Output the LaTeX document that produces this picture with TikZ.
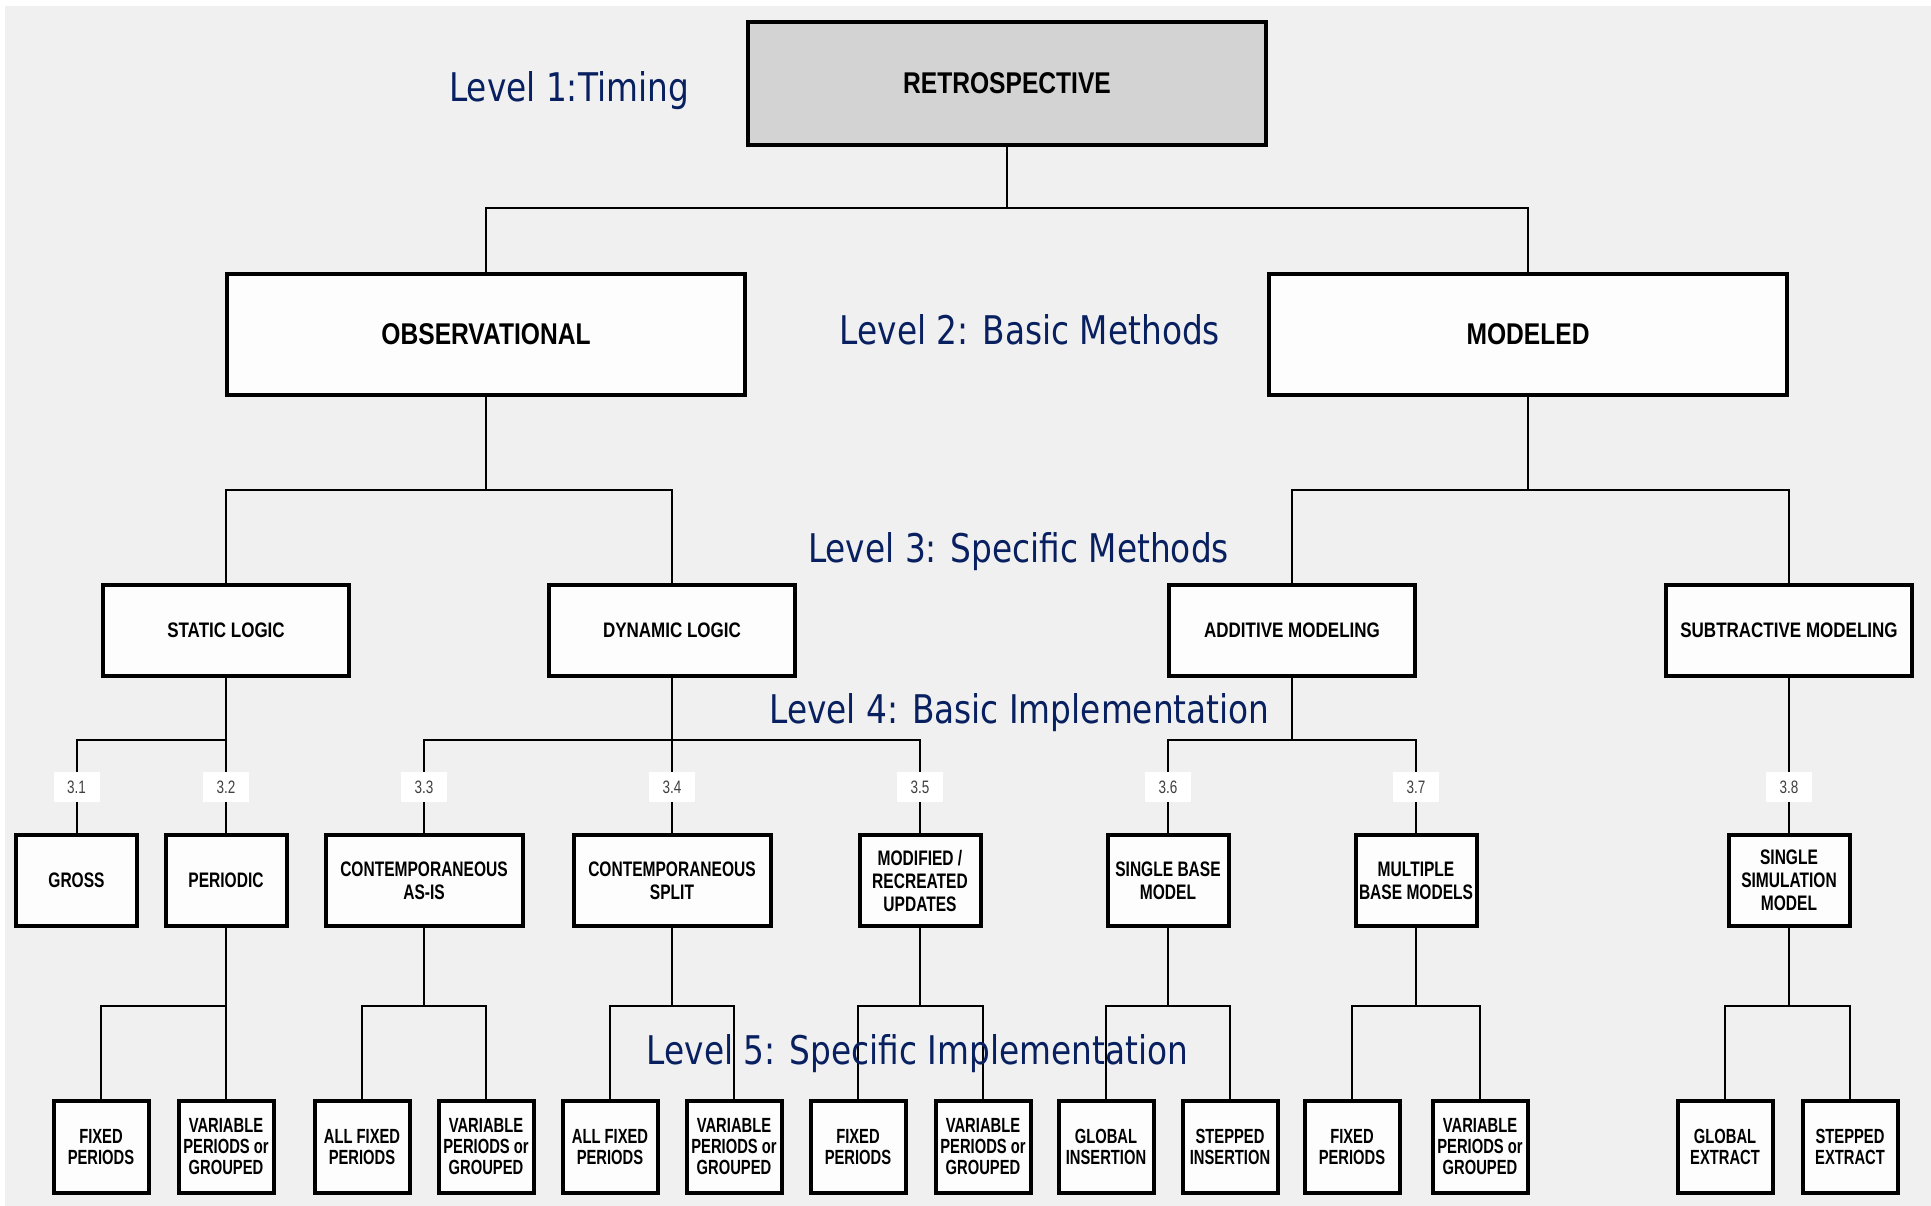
\documentclass[tikz,border=0pt]{standalone}
\usepackage{fontspec}
\setmainfont{Liberation Sans}
\newfontfamily\fA[FakeStretch=0.82]{Liberation Sans}
\newfontfamily\fB[FakeStretch=0.74]{Liberation Sans}
\newfontfamily\fD[FakeStretch=0.81]{Liberation Sans}
\newfontfamily\fC[FakeStretch=0.72]{Liberation Sans}
\newfontfamily\fN[FakeStretch=0.75]{Liberation Sans}
\newfontfamily\fL[FakeStretch=0.83]{DejaVu Sans}
\definecolor{bggray}{RGB}{240,240,240}
\definecolor{titlegray}{RGB}{211,211,211}
\definecolor{boxw}{RGB}{253,253,253}
\definecolor{lvlblue}{RGB}{8,32,96}
\begin{document}
\begin{tikzpicture}[x=1pt,y=-1pt,
  bx/.style={draw=black, line width=4pt, fill=boxw, align=center, inner sep=0pt},
  topbox/.style={bx, fill=titlegray, minimum width=518pt, minimum height=123pt, font={\fA\bfseries\fontsize{30}{32}\selectfont}},
  lvtwo/.style={bx, minimum width=518pt, minimum height=121pt, font={\fA\bfseries\fontsize{30}{32}\selectfont}},
  lvthree/.style={bx, minimum width=246pt, minimum height=91pt, font={\fD\bfseries\fontsize{21}{23}\selectfont}},
  lvfour/.style={bx, minimum width=121pt, minimum height=91pt, font={\fB\bfseries\fontsize{21}{23}\selectfont}},
  lvfourw/.style={lvfour, minimum width=197pt},
  lvfive/.style={bx, minimum width=95pt, minimum height=92pt, font={\fC\bfseries\fontsize{20.5}{21}\selectfont}},
  conn/.style={draw=black, line width=2pt},
  numlab/.style={fill=white, inner sep=0pt, minimum width=46pt, minimum height=30pt, text=black!75, font={\fN\fontsize{18}{20}\selectfont}},
  lvltext/.style={anchor=base, text=lvlblue, inner sep=0pt, font={\fL\fontsize{39.5}{42}\selectfont}}
]
\useasboundingbox (0,0) rectangle (1931,1206);
\fill[white] (0,0) rectangle (1931,1206);
\fill[bggray] (5,6) rectangle (1931,1206);

% Level 1
\node[topbox] (retro) at (1007,83.5) {RETROSPECTIVE};
% Level 2
\node[lvtwo] (obs) at (486,334.5) {OBSERVATIONAL};
\node[lvtwo] (mod) at (1528,334.5) {MODELED};
% Level 3
\node[lvthree] (stat) at (226,630.5) {STATIC LOGIC};
\node[lvthree] (dyn) at (672,630.5) {DYNAMIC LOGIC};
\node[lvthree] (add) at (1292,630.5) {ADDITIVE MODELING};
\node[lvthree] (sub) at (1789,630.5) {SUBTRACTIVE MODELING};
% Level 4
\node[lvfour] (gross) at (76.5,880.5) {GROSS};
\node[lvfour] (per) at (226,880.5) {PERIODIC};
\node[lvfourw] (asis) at (424,880.5) {CONTEMPORANEOUS\\AS-IS};
\node[lvfourw] (split) at (672,880.5) {CONTEMPORANEOUS\\SPLIT};
\node[lvfour] (modi) at (920,880.5) {MODIFIED /\\RECREATED\\UPDATES};
\node[lvfour] (sbm) at (1168,880.5) {SINGLE BASE\\MODEL};
\node[lvfour] (mbm) at (1416,880.5) {MULTIPLE\\BASE MODELS};
\node[lvfour] (ssm) at (1789,880.5) {SINGLE\\SIMULATION\\MODEL};
% Level 5
\node[lvfive] (e1) at (101,1147) {FIXED\\PERIODS};
\node[lvfive] (e2) at (226,1147) {VARIABLE\\PERIODS or\\GROUPED};
\node[lvfive] (e3) at (362,1147) {ALL FIXED\\PERIODS};
\node[lvfive] (e4) at (486,1147) {VARIABLE\\PERIODS or\\GROUPED};
\node[lvfive] (e5) at (610,1147) {ALL FIXED\\PERIODS};
\node[lvfive] (e6) at (734,1147) {VARIABLE\\PERIODS or\\GROUPED};
\node[lvfive] (e7) at (858,1147) {FIXED\\PERIODS};
\node[lvfive] (e8) at (983,1147) {VARIABLE\\PERIODS or\\GROUPED};
\node[lvfive] (e9) at (1106,1147) {GLOBAL\\INSERTION};
\node[lvfive] (e10) at (1230,1147) {STEPPED\\INSERTION};
\node[lvfive] (e11) at (1352,1147) {FIXED\\PERIODS};
\node[lvfive] (e12) at (1480,1147) {VARIABLE\\PERIODS or\\GROUPED};
\node[lvfive] (e13) at (1725,1147) {GLOBAL\\EXTRACT};
\node[lvfive] (e14) at (1850,1147) {STEPPED\\EXTRACT};

% junctions
\coordinate (j1) at (1007,208);
\coordinate (j2) at (486,490);
\coordinate (j3) at (1528,490);
\coordinate (j4) at (226,740);
\coordinate (j5) at (672,740);
\coordinate (j6) at (1292,740);
\coordinate (k1) at (226,1006);
\coordinate (k2) at (424,1006);
\coordinate (k3) at (672,1006);
\coordinate (k4) at (920,1006);
\coordinate (k5) at (1168,1006);
\coordinate (k6) at (1416,1006);
\coordinate (k7) at (1789,1006);

\draw[conn] (retro.south) -- (j1);
\draw[conn] (j1) -| (obs.north);
\draw[conn] (j1) -| (mod.north);
\draw[conn] (obs.south) -- (j2);
\draw[conn] (j2) -| (stat.north);
\draw[conn] (j2) -| (dyn.north);
\draw[conn] (mod.south) -- (j3);
\draw[conn] (j3) -| (add.north);
\draw[conn] (j3) -| (sub.north);
\draw[conn] (stat.south) -- (j4);
\draw[conn] (j4) -| (gross.north);
\draw[conn] (j4) -- (per.north);
\draw[conn] (dyn.south) -- (j5);
\draw[conn] (j5) -| (asis.north);
\draw[conn] (j5) -- (split.north);
\draw[conn] (j5) -| (modi.north);
\draw[conn] (add.south) -- (j6);
\draw[conn] (j6) -| (sbm.north);
\draw[conn] (j6) -| (mbm.north);
\draw[conn] (sub.south) -- (ssm.north);
\draw[conn] (per.south) -- (k1);
\draw[conn] (k1) -| (e1.north);
\draw[conn] (k1) -- (e2.north);
\draw[conn] (asis.south) -- (k2);
\draw[conn] (k2) -| (e3.north);
\draw[conn] (k2) -| (e4.north);
\draw[conn] (split.south) -- (k3);
\draw[conn] (k3) -| (e5.north);
\draw[conn] (k3) -| (e6.north);
\draw[conn] (modi.south) -- (k4);
\draw[conn] (k4) -| (e7.north);
\draw[conn] (k4) -| (e8.north);
\draw[conn] (sbm.south) -- (k5);
\draw[conn] (k5) -| (e9.north);
\draw[conn] (k5) -| (e10.north);
\draw[conn] (mbm.south) -- (k6);
\draw[conn] (k6) -| (e11.north);
\draw[conn] (k6) -| (e12.north);
\draw[conn] (ssm.south) -- (k7);
\draw[conn] (k7) -| (e13.north);
\draw[conn] (k7) -| (e14.north);

% number labels
\node[numlab] (n31) at (76.5,787) {3.1};
\node[numlab] (n32) at (226,787) {3.2};
\node[numlab] (n33) at (424,787) {3.3};
\node[numlab] (n34) at (672,787) {3.4};
\node[numlab] (n35) at (920,787) {3.5};
\node[numlab] (n36) at (1168,787) {3.6};
\node[numlab] (n37) at (1416,787) {3.7};
\node[numlab] (n38) at (1789,787) {3.8};

% level texts
\node[lvltext] (t1) at (569,102) {Level 1:Timing};
\node[lvltext] (t2) at (1030,344.5) {Level 2: Basic Methods};
\node[lvltext] (t3) at (1018.5,562) {Level 3: Specific Methods};
\node[lvltext] (t4) at (1019.5,723) {Level 4: Basic Implementation};
\node[lvltext] (t5) at (917.5,1064) {Level 5: Specific Implementation};
\end{tikzpicture}
\end{document}
